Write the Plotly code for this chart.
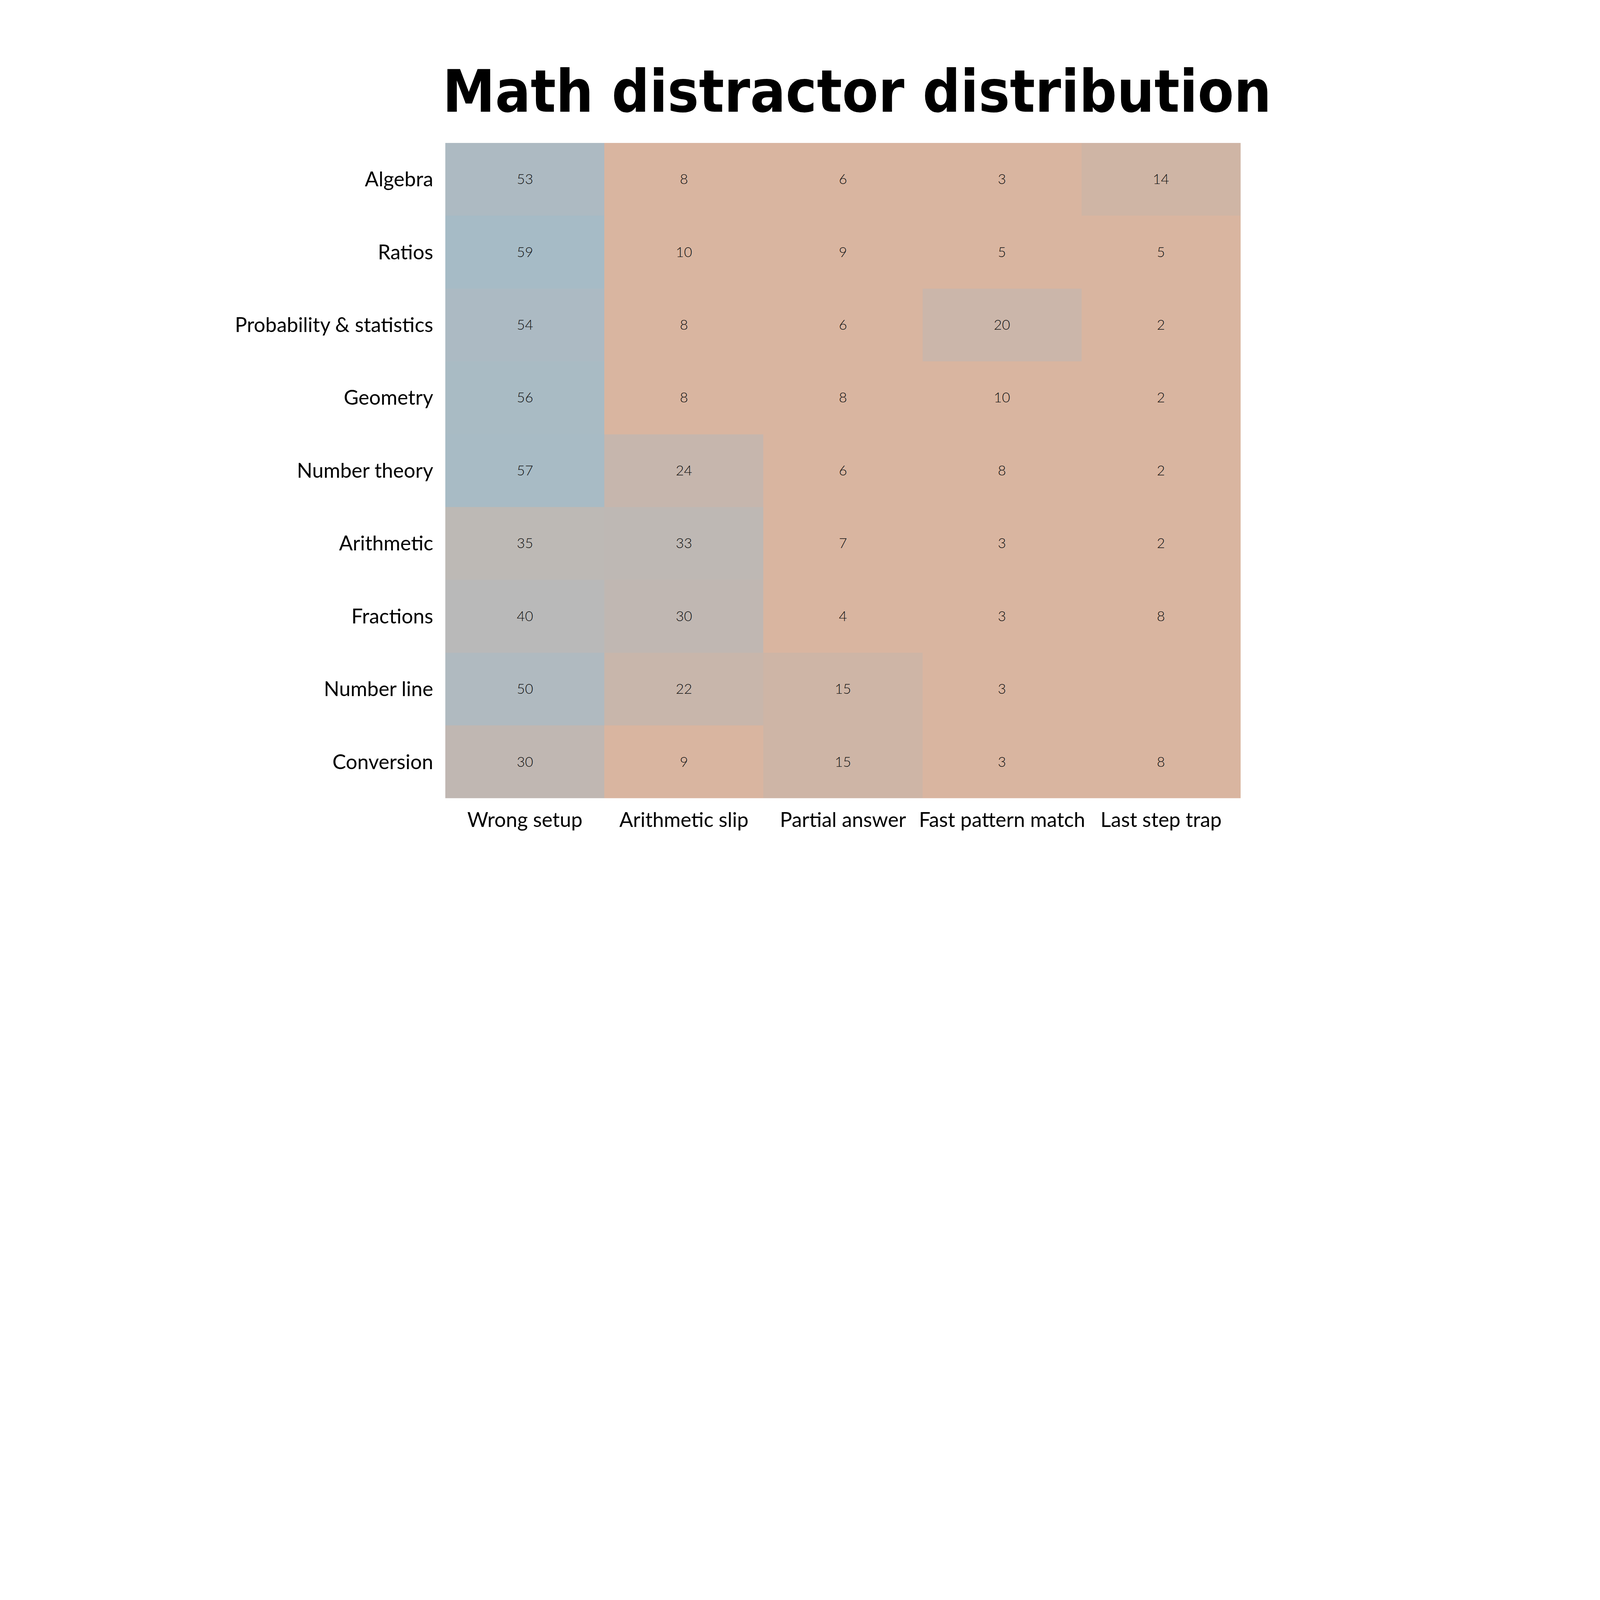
import plotly.graph_objects as go

# rows top -> bottom, columns left -> right
topics = ['Algebra', 'Ratios', 'Probability & statistics', 'Geometry', 'Number theory',
          'Arithmetic', 'Fractions', 'Number line', 'Conversion']
distractors = ['Wrong setup', 'Arithmetic slip', 'Partial answer', 'Fast pattern match', 'Last step trap']

wrong_setup = [53, 59, 54, 56, 57, 35, 40, 50, 30]
arithmetic_slip = [8, 10, 8, 8, 24, 33, 30, 22, 9]
partial_answer = [6, 9, 6, 8, 6, 7, 4, 15, 15]
fast_pattern = [3, 5, 20, 10, 8, 3, 3, 3, 3]
last_step = [14, 5, 2, 2, 2, 2, 8, None, 8]

cols = [wrong_setup, arithmetic_slip, partial_answer, fast_pattern, last_step]
z = [[c[i] if c[i] is not None else 0 for c in cols] for i in range(len(topics))]
txt = [['' if c[i] is None else str(c[i]) for c in cols] for i in range(len(topics))]

# orange (few) -> grey -> blue (many), low end flat
zmin, zmax = 2, 59
stops = [(2, '#D9B5A0'), (10, '#D9B5A0'), (14, '#CFB5A5'), (20, '#CBB6AA'), (22, '#C8B6AB'),
         (30, '#C0B7B2'), (35, '#BDB9B5'), (40, '#B9B9B9'), (50, '#B0BAC0'), (59, '#A6BBC6')]
cscale = [[(v - zmin) / (zmax - zmin), c] for v, c in stops]

fig = go.Figure(go.Heatmap(
    z=z, x=distractors, y=topics, text=txt, texttemplate='%{text}',
    textfont=dict(family='Lato', size=36, color='#111111', weight=300),
    colorscale=cscale, zmin=zmin, zmax=zmax, showscale=False, xgap=0, ygap=0,
    hoverinfo='skip',
))

fig.update_layout(
    width=4000, height=2250,
    paper_bgcolor='white', plot_bgcolor='white',
    margin=dict(l=0, r=0, t=0, b=0),
    title=dict(text='<b>Math distractor distribution</b>', x=0.5465, xanchor='center',
               y=0.9, yanchor='middle',
               font=dict(family='DejaVu Sans Condensed', size=150, color='black')),
    xaxis=dict(domain=[0.283, 0.792], side='bottom', showgrid=False, zeroline=False,
               ticks='', ticklabelstandoff=20,
               tickfont=dict(family='Lato', size=52, color='black')),
    yaxis=dict(domain=[0.0953, 0.841], autorange='reversed', showgrid=False, zeroline=False,
               ticks='', ticklabelstandoff=30,
               tickfont=dict(family='Lato', size=52, color='black')),
)

fig.write_html('out.html')
